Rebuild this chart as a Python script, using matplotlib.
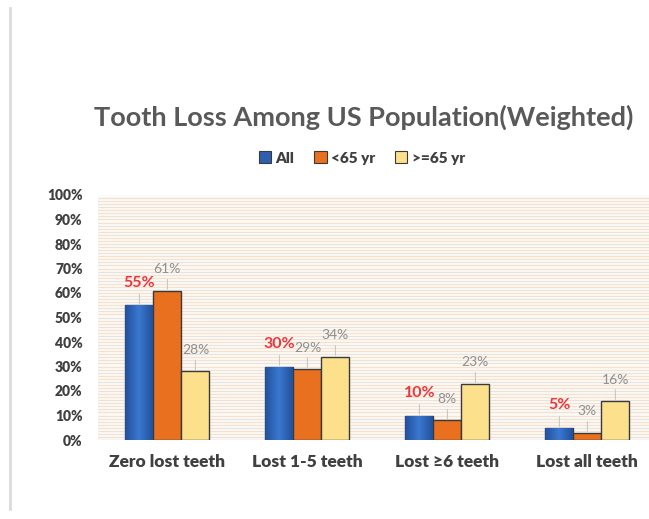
import matplotlib
matplotlib.use("Agg")
import matplotlib.pyplot as plt
import numpy as np
from matplotlib.lines import Line2D

# data
categories = ["Zero lost teeth", "Lost 1-5 teeth", "Lost \u22656 teeth", "Lost all teeth"]
series_names = ["All", "<65 yr", ">=65 yr"]
all_pct = [55, 30, 10, 5]
under65_pct = [61, 29, 8, 3]
over65_pct = [28, 34, 23, 16]
yticks = [0, 10, 20, 30, 40, 50, 60, 70, 80, 90, 100]

plt.rcParams["font.family"] = ["Lato", "DejaVu Sans"]

fig = plt.figure(figsize=(6.49, 5.19), dpi=100)
fig.patch.set_facecolor("white")
ax = fig.add_axes([98 / 649, 79 / 519, 551 / 649, 245 / 519])
ax.set_facecolor("#fefaf6")

# striped background
for k, yy in enumerate(np.arange(1.25, 100, 1.25)):
    c = "#f5e1d0" if k % 3 else "#e6e4e0"
    ax.axhline(yy, color=c, lw=0.9, zorder=0)

x = np.arange(len(categories))
w = 0.2
colors = ["#2f60b0", "#e8701e", "#fde08c"]
series = [all_pct, under65_pct, over65_pct]

for i, (vals, col, name) in enumerate(zip(series, colors, series_names)):
    bars = ax.bar(x + (i - 1) * w, vals, w, color=col, edgecolor="#3a3a3a",
                  lw=1.0, label=name, zorder=3)
    if i == 0:
        # soft shading on the blue bars
        grad = np.abs(np.linspace(-1, 1, 64))[None, :]
        for b in bars:
            im = ax.imshow(grad, cmap=matplotlib.colors.LinearSegmentedColormap.from_list(
                "b", ["#3a78cf", "#22509c"]), aspect="auto", zorder=3.5,
                extent=[b.get_x(), b.get_x() + b.get_width(), 0, b.get_height()])
            im.set_clip_path(b)
    for b, v in zip(bars, vals):
        if i == 0:
            kw = dict(color="#e8383d", fontsize=11.5, fontweight="bold")
        else:
            kw = dict(color="#8f8f8f", fontsize=10)
        ax.annotate(f"{v}%", (b.get_x() + b.get_width() / 2, v),
                    xytext=(0, 11), textcoords="offset points",
                    ha="center", va="bottom", zorder=5,
                    arrowprops=dict(arrowstyle="-", color="#c8c8c8", lw=0.8,
                                    shrinkA=1, shrinkB=1), **kw)

ax.set_xlim(-0.496, 3.44)
ax.set_ylim(0, 100)
ax.set_xticks(x)
ax.set_xticklabels(categories, fontsize=12.5, fontweight="heavy", color="#404040")
ax.set_yticks(yticks)
ax.set_yticklabels([f"{t}%" for t in yticks], fontsize=10, fontweight="heavy", color="#404040")
ax.tick_params(axis="both", length=0)
ax.tick_params(axis="x", pad=10)
ax.tick_params(axis="y", pad=11)
for s in ax.spines.values():
    s.set_visible(False)
ax.axhline(0, color="#d9d9d9", lw=1, zorder=2)

fig.text(364 / 649, 1 - 117 / 519, "Tooth Loss Among US Population(Weighted)",
         ha="center", va="center", fontsize=19.5, fontweight="bold", color="#595959")

handles = [plt.Rectangle((0, 0), 1, 1, facecolor=c, edgecolor="#3a3a3a", lw=0.8) for c in colors]
fig.legend(handles, series_names, loc="center", bbox_to_anchor=(362 / 649, 1 - 158 / 519),
           ncol=3, frameon=False, handlelength=0.8, handleheight=0.8,
           handletextpad=0.3, columnspacing=1.3,
           prop={"family": "Lato", "weight": "heavy", "size": 11}, labelcolor="#404040")

fig.add_artist(Line2D([10 / 649, 10 / 649], [0.02, 1 - 8 / 519], color="#dadada", lw=2))

fig.savefig("out.png", dpi=100)
